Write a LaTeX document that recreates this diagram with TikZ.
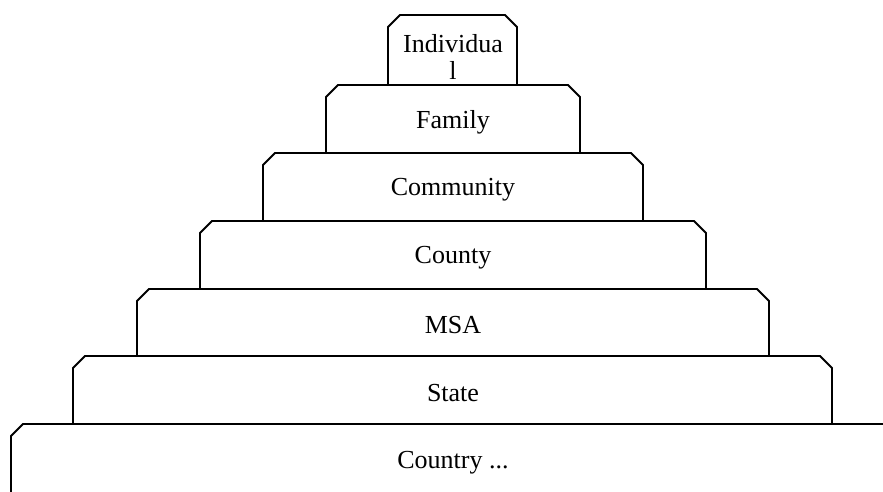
\documentclass[tikz,border=0pt]{standalone}
\usepackage{fontspec}
\setmainfont{Liberation Serif}
\begin{document}
\begin{tikzpicture}[x=1pt,y=-1pt,
  tier/.style={draw=black,line width=1.9pt,line join=miter},
  lbl/.style={font=\fontsize{26}{27}\selectfont,align=center,inner sep=0pt}]
\useasboundingbox (0,0) rectangle (883,492);
% tiers: left, right, top, bottom
\foreach \l/\r/\t/\b in {388/517/15/85, 326/580/85/153, 263/643/153/221, 200/706/221/289, 137/769/289/356, 73/832/356/424}{
  \draw[tier] (\l,\b) -- (\l,\t+12) -- (\l+12,\t) -- (\r-12,\t) -- (\r,\t+12) -- (\r,\b);
}
\draw[tier] (11,492) -- (11,436) -- (23,424) -- (883,424);
\node[lbl] (individual) at (453,57) {Individua\\l};
\node[lbl] (family) at (453,122) {Family};
\node[lbl] (community) at (453,190) {Community};
\node[lbl] (county) at (453,258) {County};
\node[lbl] (msa) at (453,325) {MSA};
\node[lbl] (state) at (453,393) {State};
\node[lbl] (country) at (453,463) {Country ...};
\end{tikzpicture}
\end{document}
